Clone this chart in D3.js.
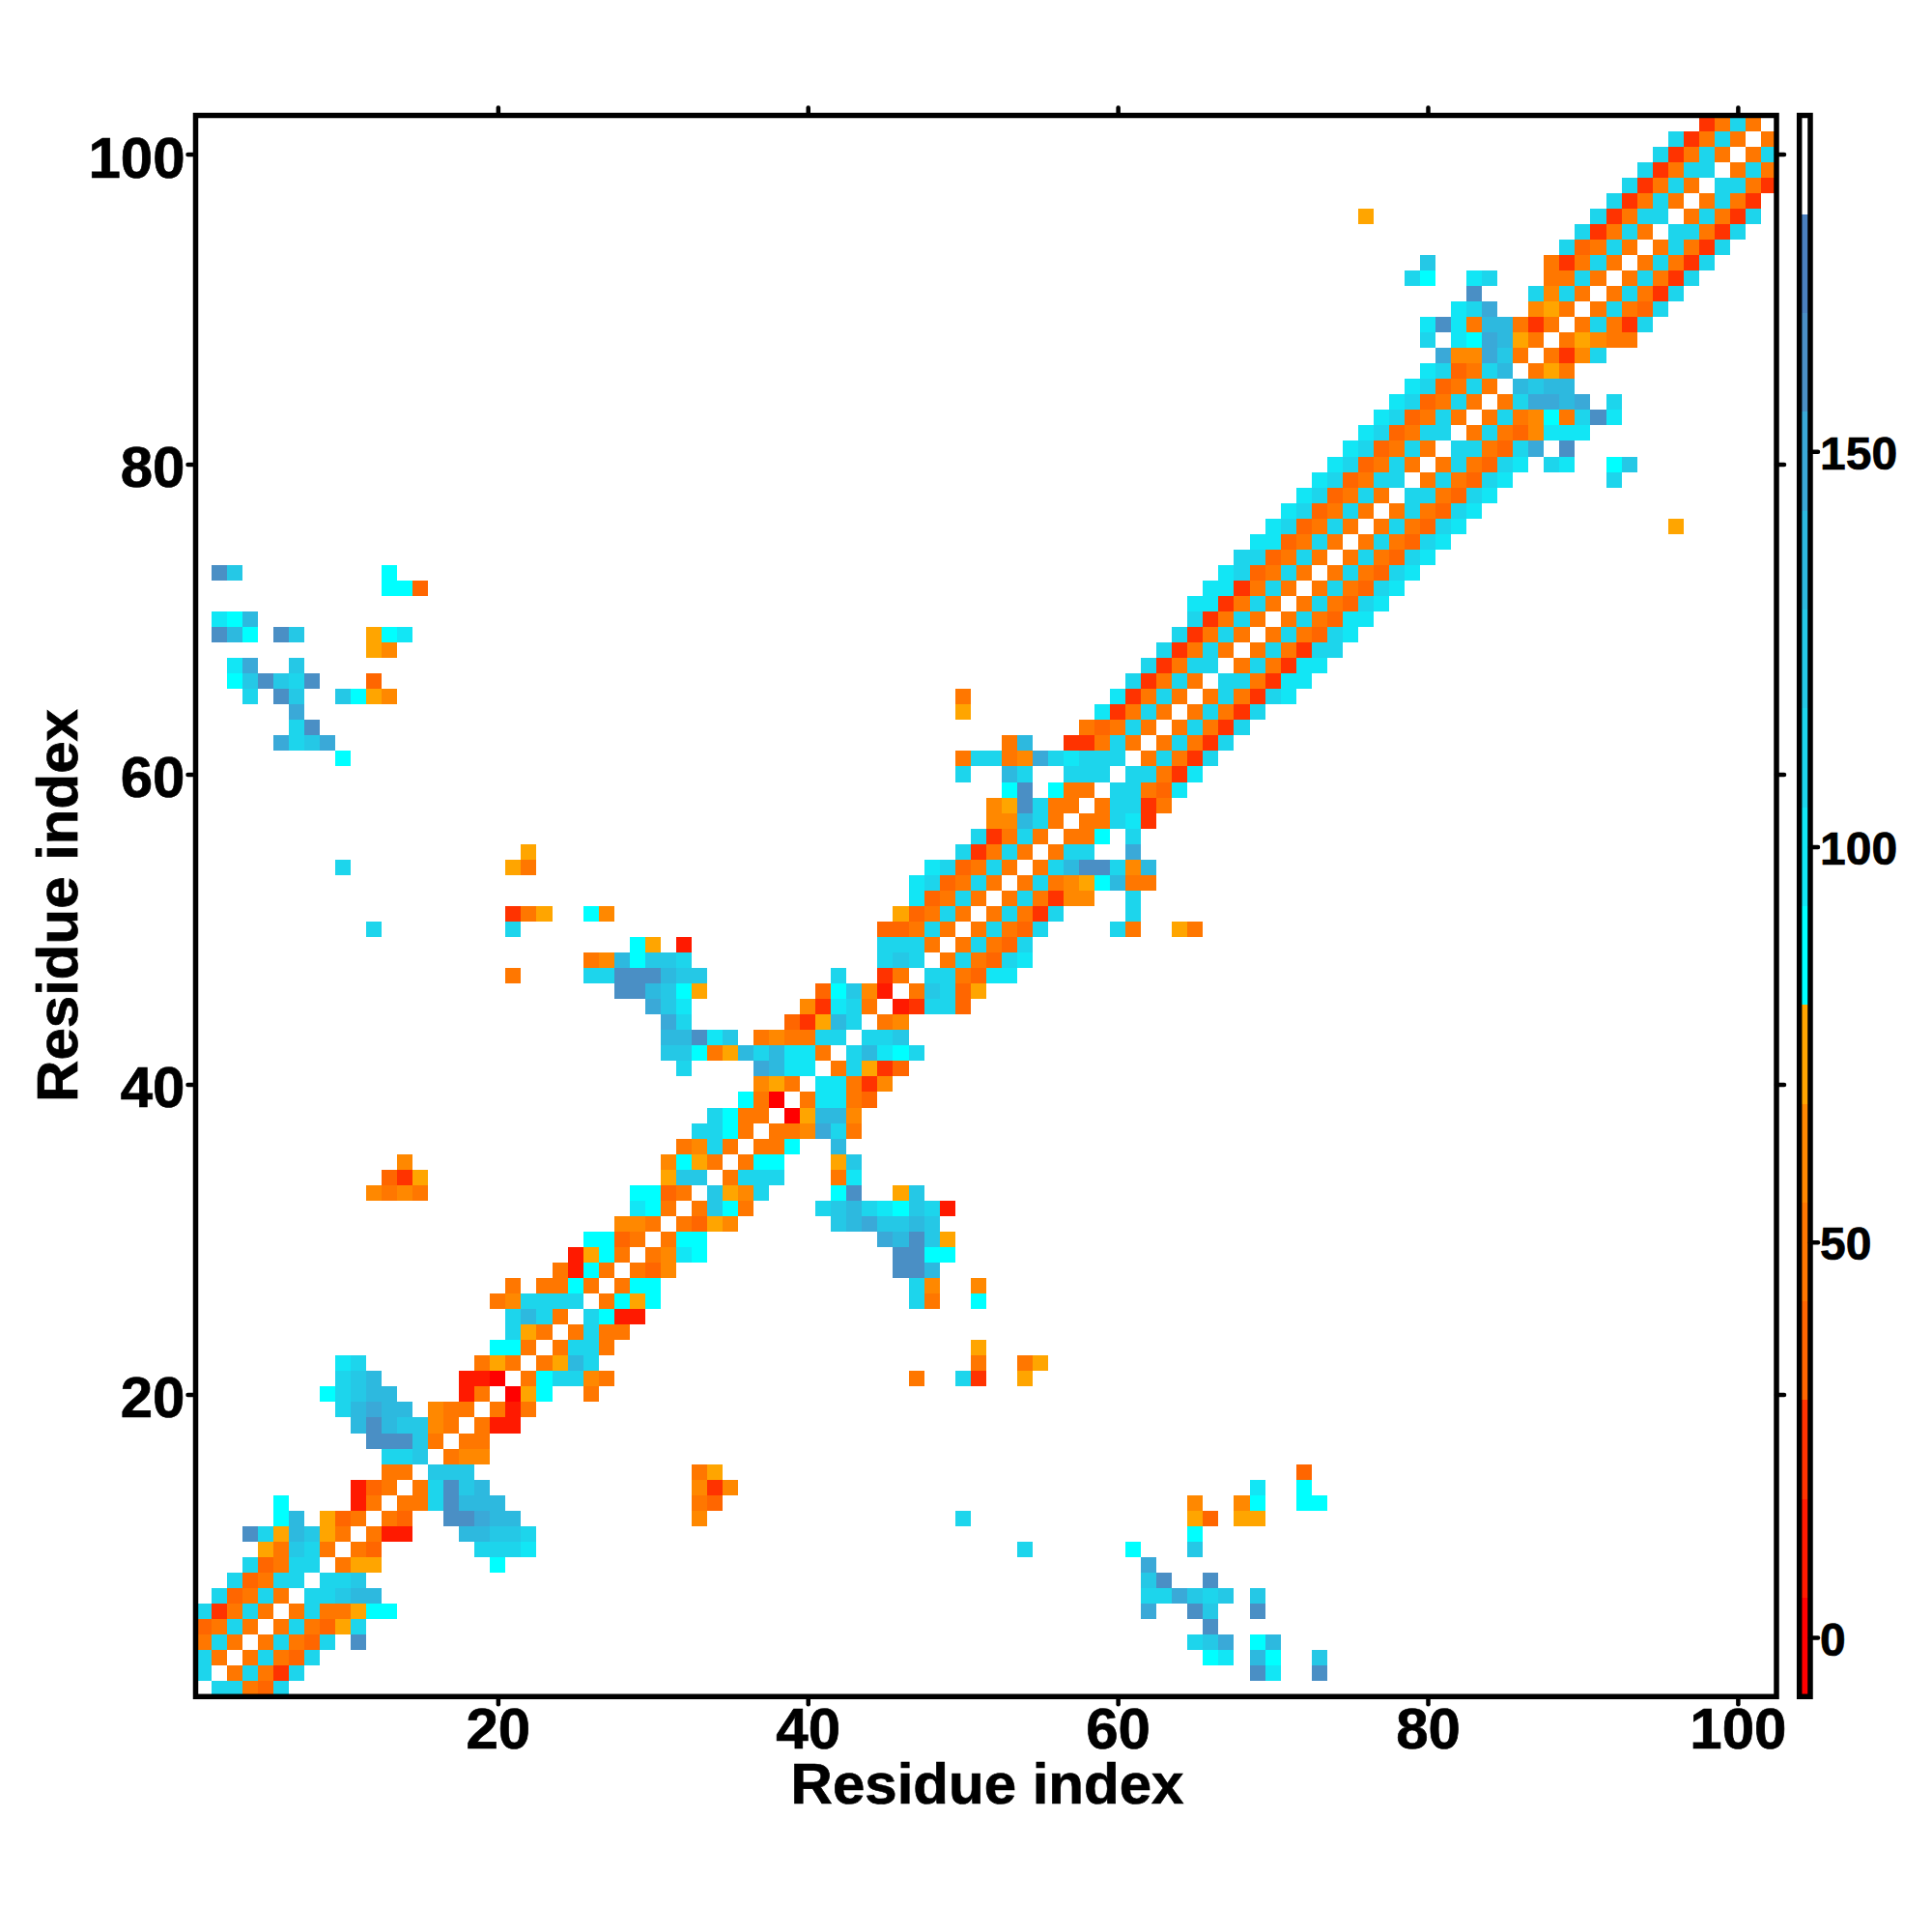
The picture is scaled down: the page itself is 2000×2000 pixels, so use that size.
<!DOCTYPE html>
<html>
<head>
<meta charset="utf-8">
<script src="https://cdn.jsdelivr.net/npm/d3@7"></script>
<style>
  html, body { margin: 0; padding: 0; background: #fff; }
  text { font-family: "Liberation Sans", Arial, sans-serif; font-weight: bold; fill: #000; stroke: #000; stroke-width: 0.7px; }
</style>
</head>
<body>
<div id="chart"></div>
<script>
// colour levels
var levelBreaks = [-7.5, 5, 17.5, 30, 42.5, 55, 67.5, 80, 92.5, 105, 117.5, 130, 142.5, 155, 167.5, 180, 192.5];
var levelColors = ["#ff0000", "#ff1a00", "#ff3300", "#ff6600", "#ff7700", "#ff8800", "#ffa500",
  "#00ffff", "#12e6f5", "#1dd5ec", "#25c8e6", "#2db9df", "#3aa9d8", "#4a8fc5", "#4a80bf", "#ffffff"];
var levelCodes = "rabcdefghijklmn";
var levelValues = [0, 11, 24, 36, 49, 61, 74, 86, 99, 111, 124, 136, 149, 161, 174];

var xTicks = [20, 40, 60, 80, 100];
var barTicks = [0, 50, 100, 150];

// residue, first partner, level code per partner (space = nothing drawn)
var contactRows = [
  [1, 2, "iidci"],
  [2, 3, "didbi"], [2, 69, "mh  m"],
  [3, 4, "didci"], [3, 66, "gh kg  j"],
  [4, 5, "didci m"], [4, 65, "ijl gk"],
  [5, 6, "didcfi"], [5, 66, "m"],
  [6, 7, "diddfgg"], [6, 62, "l  mj  m"],
  [7, 8, "iijkk"], [7, 62, "iiljij j"],
  [8, 9, "iij"], [8, 62, "jm  m"],
  [9, 10, "dff"], [9, 20, "g"], [9, 62, "l"],
  [10, 11, "dc"], [10, 19, "iiih"], [10, 54, "i"], [10, 61, "g   j"],
  [11, 12, "daa"], [11, 18, "kkjji"], [11, 65, "g"],
  [12, 13, "dc"], [12, 17, "mmlkk"], [12, 33, "e"], [12, 50, "i"], [12, 65, "fc ff"],
  [13, 14, "ddimkkk"], [13, 33, "dc"], [13, 65, "e  eg  gg"],
  [14, 15, "dimjk"], [14, 33, "ebe"], [14, 69, "h  g"],
  [15, 16, "jjj"], [15, 33, "df"], [15, 72, "c"],
  [16, 17, "dee"],
  [17, 18, "dd"],
  [18, 19, "daa"],
  [19, 20, "dad"],
  [20, 21, "rfg  d"],
  [21, 22, "dgiied"], [21, 47, "d  ib  f"],
  [22, 23, "dfki"], [22, 51, "d  df"],
  [23, 24, "diid"], [23, 51, "f"],
  [24, 25, "didd"],
  [25, 26, "igaa"],
  [26, 27, "dgfg"], [26, 47, "id  g"],
  [27, 28, "dgg"], [27, 47, "ie  e"],
  [28, 29, "dce"], [28, 46, "mmk"],
  [29, 30, "dehg"], [29, 46, "mmgg"],
  [30, 31, "dgg"], [30, 45, "lkmjf"],
  [31, 32, "dcfe"], [31, 42, "jkljjkj"],
  [32, 33, "djgd"], [32, 41, "ijkihgjia"],
  [33, 34, "jfei"], [33, 42, "gm  fj"],
  [34, 35, "diii"], [34, 42, "dh"],
  [35, 36, "dgg"], [35, 42, "fj"],
  [36, 37, "ddg"], [36, 42, "k"],
  [37, 38, "ddelid"],
  [38, 39, "rfkke"],
  [39, 40, "dhhdc"],
  [40, 41, "hhdbe"],
  [41, 42, "difbc"],
  [42, 43, "ikhgi"],
  [43, 44, "iij"],
  [44, 45, "de"],
  [45, 46, "abiic"],
  [46, 47, "djicf"],
  [47, 48, "iidchh"],
  [48, 49, "didcih"],
  [49, 50, "didci"],
  [50, 51, "didci"], [50, 60, "id  fd"],
  [51, 52, "didbi"], [51, 61, "i"],
  [52, 53, "didbee"], [52, 61, "i"],
  [53, 54, "didefgkdd"],
  [54, 55, "dikmmiek"],
  [55, 56, "dii  l"],
  [56, 57, "ddg i"],
  [57, 58, "ddihb"],
  [58, 59, "diibd"],
  [59, 60, "iidch"],
  [60, 61, "iidbh"],
  [61, 62, "didbi"],
  [62, 63, "didbi"],
  [63, 64, "didbi"],
  [64, 65, "didbi"],
  [65, 66, "didbih"],
  [66, 67, "iidbhh"],
  [67, 68, "didbhh"],
  [68, 69, "didbii"],
  [69, 70, "didcih"],
  [70, 71, "didchh"],
  [71, 72, "didcih"],
  [72, 73, "didcih"],
  [73, 74, "didcih"],
  [74, 75, "didcih"],
  [75, 76, "didcih"],
  [76, 77, "didcih"], [76, 96, "f"],
  [77, 78, "didcih"],
  [78, 79, "iidcih"],
  [79, 80, "didcih"], [79, 92, "i"],
  [80, 81, "didcih"], [80, 88, "ih  gj"],
  [81, 82, "iidcil m"],
  [82, 83, "didcehhh"],
  [83, 84, "didegdimh"],
  [84, 85, "dillkl i"],
  [85, 86, "kjkk"],
  [86, 87, "dfd"],
  [87, 88, "dbei"],
  [88, 89, "dfedd"],
  [89, 90, "didbi"],
  [90, 91, "didci"],
  [91, 92, "didbi"],
  [92, 93, "didbi"],
  [93, 94, "didbi"],
  [94, 95, "didbi"],
  [95, 96, "iidbi"],
  [96, 97, "didbi"],
  [97, 98, "didb"],
  [98, 99, "iidb"],
  [99, 100, "did"],
  [100, 101, "di"],
  [101, 102, "d"]
];

var svgWidth = 2000;
var svgHeight = 2000;

var plot = { left: 202.5, right: 1839, top: 119.5, bottom: 1756.3 };
var bar = { left: 1862.7, right: 1874 };

var svg = d3.select("#chart")
  .append("svg")
  .attr("width", svgWidth)
  .attr("height", svgHeight)
  .style("display", "block");

var xScale = d3.scaleLinear().domain([0.5, 102.5]).range([plot.left, plot.right]);
var yScale = d3.scaleLinear().domain([0.5, 102.5]).range([plot.bottom, plot.top]);
var barScale = d3.scaleLinear().domain([-7.5, 192.5]).range([plot.bottom, plot.top]);
var colorScale = d3.scaleThreshold().domain(levelBreaks.slice(1, -1)).range(levelColors);

// the map is symmetric, every contact is drawn on both sides of the diagonal
var cells = [];
contactRows.forEach(function(row) {
  row[2].split("").forEach(function(code, k) {
    if (code === " ") return;
    var value = levelValues[levelCodes.indexOf(code)];
    cells.push({ i: row[0], j: row[1] + k, value: value });
    cells.push({ i: row[1] + k, j: row[0], value: value });
  });
});

svg.append("defs").append("clipPath")
  .attr("id", "plotClip")
  .append("rect")
  .attr("x", plot.left)
  .attr("y", plot.top)
  .attr("width", plot.right - plot.left)
  .attr("height", plot.bottom - plot.top);

svg.append("g")
  .attr("clip-path", "url(#plotClip)")
  .selectAll("rect")
  .data(cells)
  .enter()
  .append("rect")
  .attr("x", d => xScale(d.j - 0.5))
  .attr("y", d => yScale(d.i + 0.5))
  .attr("width", d => xScale(d.j + 0.5) - xScale(d.j - 0.5))
  .attr("height", d => yScale(d.i - 0.5) - yScale(d.i + 0.5))
  .attr("fill", d => colorScale(d.value))
  .attr("shape-rendering", "crispEdges");

// colour bar
svg.append("g")
  .selectAll("rect")
  .data(levelColors)
  .enter()
  .append("rect")
  .attr("x", bar.left)
  .attr("width", bar.right - bar.left)
  .attr("y", (d, i) => barScale(levelBreaks[i + 1]))
  .attr("height", (d, i) => barScale(levelBreaks[i]) - barScale(levelBreaks[i + 1]))
  .attr("fill", d => d)
  .attr("shape-rendering", "crispEdges");

function styleAxis(g, fontSize) {
  g.select(".domain").remove();
  g.selectAll(".tick line")
    .attr("stroke", "#000")
    .attr("stroke-width", 4.5)
    .attr("stroke-linecap", "round");
  g.selectAll(".tick text")
    .style("font-size", fontSize + "px")
    .style("font-family", "'Liberation Sans', Arial, sans-serif")
    .style("font-weight", "bold");
}

svg.append("g")
  .attr("transform", `translate(0, ${plot.bottom})`)
  .call(d3.axisBottom(xScale).tickValues(xTicks).tickSize(8).tickPadding(3).tickSizeOuter(0))
  .call(g => styleAxis(g, 60));

svg.append("g")
  .attr("transform", `translate(${plot.left}, 0)`)
  .call(d3.axisLeft(yScale).tickValues(xTicks).tickSize(8).tickPadding(3).tickSizeOuter(0))
  .call(g => styleAxis(g, 60))
  .call(g => g.selectAll(".tick text").attr("dy", "0.39em"));

svg.append("g")
  .attr("transform", `translate(0, ${plot.top})`)
  .call(d3.axisTop(xScale).tickValues(xTicks).tickSize(8).tickFormat("").tickSizeOuter(0))
  .call(g => styleAxis(g, 60));

svg.append("g")
  .attr("transform", `translate(${plot.right}, 0)`)
  .call(d3.axisRight(yScale).tickValues(xTicks).tickSize(8).tickFormat("").tickSizeOuter(0))
  .call(g => styleAxis(g, 60));

svg.append("g")
  .attr("transform", `translate(${bar.right}, 0)`)
  .call(d3.axisRight(barScale).tickValues(barTicks).tickSize(8).tickPadding(2).tickSizeOuter(0))
  .call(g => styleAxis(g, 48))
  .call(g => g.selectAll(".tick text").attr("dy", "0.38em"));

// frames go over the cells
svg.append("rect")
  .attr("x", plot.left)
  .attr("y", plot.top)
  .attr("width", plot.right - plot.left)
  .attr("height", plot.bottom - plot.top)
  .attr("fill", "none")
  .attr("stroke", "#000")
  .attr("stroke-width", 5.5);

svg.append("rect")
  .attr("x", bar.left)
  .attr("y", plot.top)
  .attr("width", bar.right - bar.left)
  .attr("height", plot.bottom - plot.top)
  .attr("fill", "none")
  .attr("stroke", "#000")
  .attr("stroke-width", 5.5);

svg.append("text")
  .attr("x", 1022)
  .attr("y", 1867)
  .attr("text-anchor", "middle")
  .style("font-size", "60px")
  .text("Residue index");

svg.append("text")
  .attr("transform", "translate(79.5, 937.5) rotate(-90)")
  .attr("text-anchor", "middle")
  .style("font-size", "60px")
  .text("Residue index");
</script>
</body>
</html>
